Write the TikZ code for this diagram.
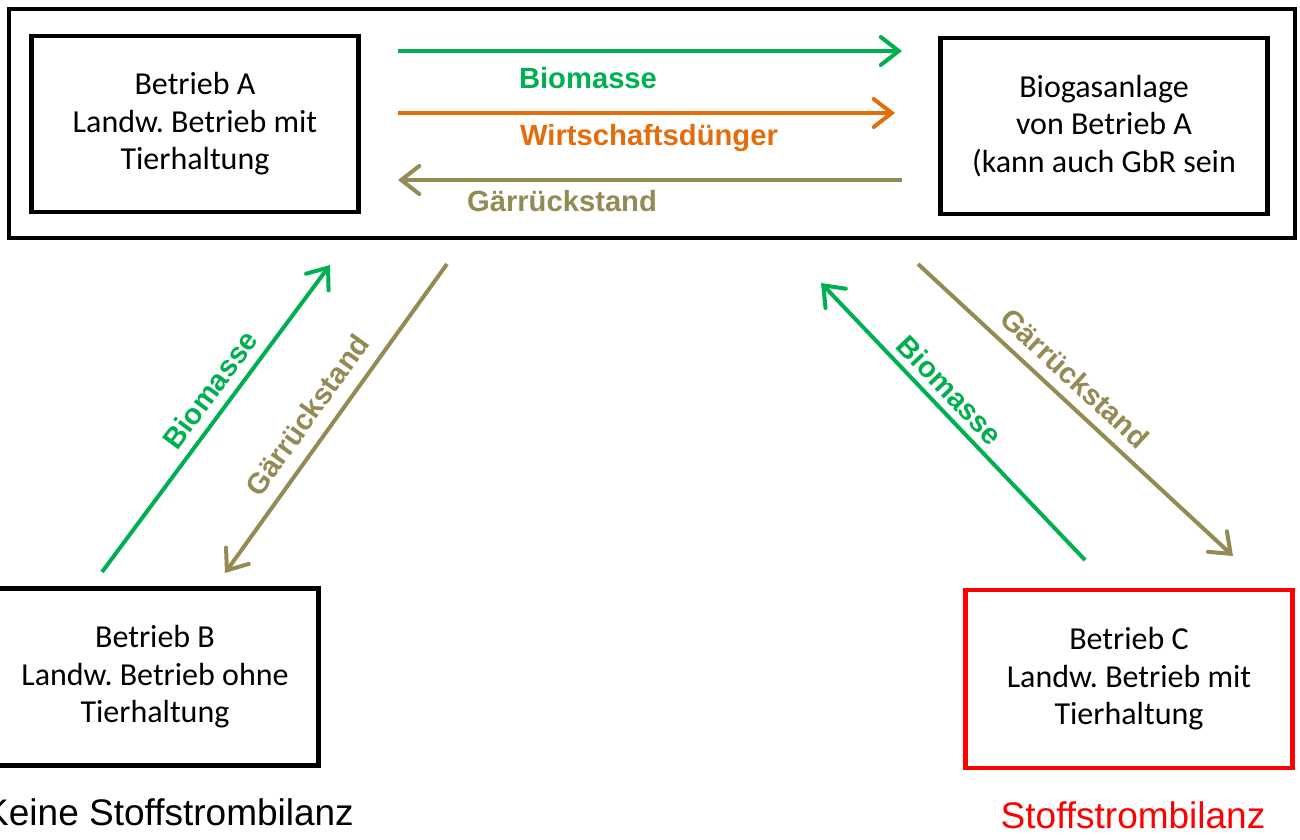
\documentclass[tikz,border=0pt]{standalone}
\usepackage{fontspec}
\setmainfont{Carlito}
\newfontfamily\arialfont{Liberation Sans}
\usetikzlibrary{arrows.meta}
\definecolor{biogreen}{HTML}{00B050}
\definecolor{manureorange}{HTML}{E46C0A}
\definecolor{digestolive}{HTML}{948A54}
\frenchspacing
\tikzset{
	farm/.style={draw, line width=4.5pt, minimum width=327pt, minimum height=176pt, inner sep=0pt, align=center, font=\fontsize{32}{37.5}\selectfont},
	flow/.style={line width=4pt, -{Straight Barb[length=18pt,width=28pt,line cap=round]}},
	flowlabel/.style={font=\arialfont\bfseries\fontsize{29.2}{33}\selectfont},
}

\begin{document}
\begin{tikzpicture}[x=1pt, y=-1pt]
			%%%%% FRAME %%%%%
			\useasboundingbox (0, 0) rectangle (1300, 839);
			
			\draw[line width=4pt] (9, 9) rectangle (1295, 238);
			
			%%%%% FARMS %%%%%
			\node[farm] (betriebA) at (195, 124) {Betrieb A\\Landw. Betrieb mit\\Tierhaltung};
			\node[farm] (anlage) at (1104, 126) {Biogasanlage\\von Betrieb A\\(kann auch GbR sein};
			\node[farm, minimum height=177pt] (betriebB) at (155, 677) {Betrieb B\\Landw. Betrieb ohne\\Tierhaltung};
			\node[farm, draw=red, minimum height=178pt] (betriebC) at (1129, 679) {Betrieb C\\Landw. Betrieb mit\\Tierhaltung};
			
			%%%%% ENDS %%%%%
			\coordinate (bioA) at (398, 51);
			\coordinate (bioE) at (902, 51);
			\coordinate (wdA) at (398, 113);
			\coordinate (wdE) at (895, 113);
			\coordinate (grA) at (902, 180);
			\coordinate (grE) at (398, 180);
			\coordinate (bioBA) at (102, 572);
			\coordinate (bioBE) at (330, 265);
			\coordinate (grBA) at (447, 264);
			\coordinate (grBE) at (225, 573);
			\coordinate (bioCA) at (1085, 560);
			\coordinate (bioCE) at (821, 283);
			\coordinate (grCA) at (918, 264);
			\coordinate (grCE) at (1233, 556);
			
			%%%%% FLOWS %%%%%
			\draw[flow, biogreen] (bioA) -- (bioE);
			\node[flowlabel, text=biogreen, anchor=base] (bioLbl) at (588, 88) {Biomasse};
			\draw[flow, manureorange] (wdA) -- (wdE);
			\node[flowlabel, text=manureorange, anchor=base] (wdLbl) at (649, 145) {Wirtschaftsdünger};
			\draw[flow, digestolive] (grA) -- (grE);
			\node[flowlabel, text=digestolive, anchor=base] (grLbl) at (562, 211) {Gärrückstand};
			
			\draw[flow, biogreen] (bioBA) -- (bioBE);
			\node[flowlabel, text=biogreen, rotate=53.4] (bioBLbl) at (210, 390) {Biomasse};
			\draw[flow, digestolive] (grBA) -- (grBE);
			\node[flowlabel, text=digestolive, rotate=54.3] (grBLbl) at (307, 415) {Gärrückstand};
			
			\draw[flow, biogreen] (bioCA) -- (bioCE);
			\node[flowlabel, text=biogreen, rotate=-46.4] (bioCLbl) at (950, 390) {Biomasse};
			\draw[flow, digestolive] (grCA) -- (grCE);
			\node[flowlabel, text=digestolive, rotate=-42.8] (grCLbl) at (1075, 378) {Gärrückstand};
			
			%%%%% NOTES %%%%%
			\node[font=\arialfont\fontsize{37}{40}\selectfont, anchor=base] (keineNote) at (169, 825) {Keine Stoffstrombilanz};
			\node[font=\arialfont\fontsize{37}{40}\selectfont, text=red, anchor=base] (bilanzNote) at (1133, 828) {Stoffstrombilanz};
\end{tikzpicture}
\end{document}
